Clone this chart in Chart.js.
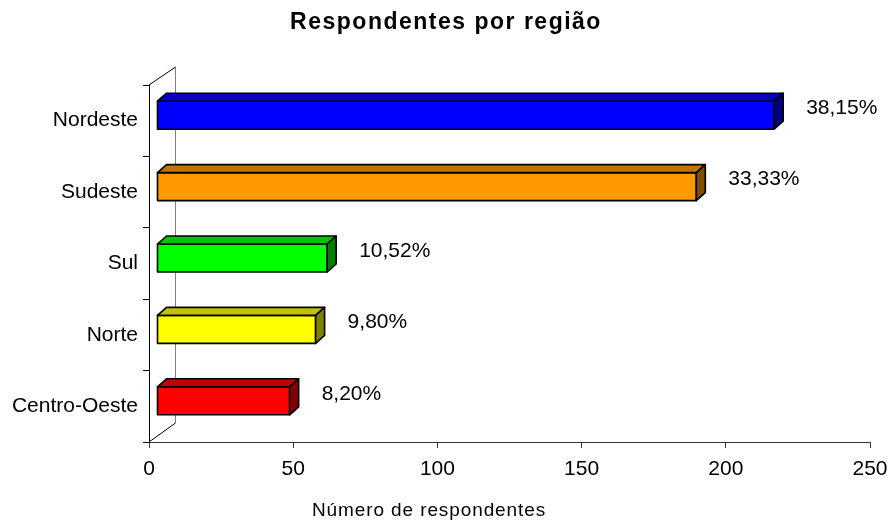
<!DOCTYPE html>
<html>
<head>
<meta charset="utf-8">
<script src="https://cdn.jsdelivr.net/npm/chart.js@4/dist/chart.umd.min.js"></script>
<style>
  body { margin: 0; background: #ffffff; }
  #chart { display: block; }
</style>
</head>
<body>
<canvas id="chart" width="894" height="525"></canvas>
<script>
// dados do gráfico=====================================================
const categorias = ["Nordeste", "Sudeste", "Sul", "Norte", "Centro-Oeste"];
const respondentes = [214, 187, 59, 55, 46];
const percentuais = ["38,15%", "33,33%", "10,52%", "9,80%", "8,20%"];
const ticksX = [0, 50, 100, 150, 200, 250];

const coresBarras = ["#0000FF", "#FF9900", "#00FF00", "#FFFF00", "#FF0000"];
const fonte = "'Liberation Sans', Arial, sans-serif";

// escurece uma cor hex (topo e lateral da barra 3D)
function escurecer(hex, f) {
  const n = parseInt(hex.slice(1), 16);
  const r = Math.round(((n >> 16) & 255) * f);
  const g = Math.round(((n >> 8) & 255) * f);
  const b = Math.round((n & 255) * f);
  return `rgb(${r},${g},${b})`;
}

// paredes + barras em 3D + rótulos=====================================
const barras3d = {
  id: "barras3d",
  beforeDatasetsDraw(chart) {
    const ctx = chart.ctx;
    const a = chart.chartArea;
    ctx.save();
    // parede do fundo
    ctx.strokeStyle = "#808080";
    ctx.lineWidth = 1;
    ctx.beginPath();
    ctx.moveTo(a.left + 26.5, a.top - 18);
    ctx.lineTo(a.left + 26.5, a.bottom - 19);
    ctx.stroke();
    // diagonais do piso
    ctx.strokeStyle = "#000000";
    ctx.beginPath();
    ctx.moveTo(a.left, a.top);
    ctx.lineTo(a.left + 26.5, a.top - 18);
    ctx.moveTo(a.left, a.bottom);
    ctx.lineTo(a.left + 26.5, a.bottom - 19);
    ctx.stroke();
    ctx.restore();
  },
  afterDatasetsDraw(chart) {
    const ctx = chart.ctx;
    const meta = chart.getDatasetMeta(0);
    const dx = 9, dy = -8;
    ctx.save();
    ctx.lineWidth = 1.6;
    ctx.strokeStyle = "#000000";
    ctx.lineJoin = "round";
    meta.data.forEach(function(el, i) {
      const p = el.getProps(["x", "y", "base", "height"], true);
      const x0 = p.base + 8;
      const x1 = p.x + 8;
      const top = p.y - 5.5 - p.height / 2;
      const bot = top + p.height;
      const cor = coresBarras[i];

      // frente
      ctx.fillStyle = cor;
      ctx.beginPath();
      ctx.rect(x0, top, x1 - x0, bot - top);
      ctx.fill();
      ctx.stroke();

      // topo
      ctx.fillStyle = escurecer(cor, 0.76);
      ctx.beginPath();
      ctx.moveTo(x0, top);
      ctx.lineTo(x0 + dx, top + dy);
      ctx.lineTo(x1 + dx, top + dy);
      ctx.lineTo(x1, top);
      ctx.closePath();
      ctx.fill();
      ctx.stroke();

      // lateral
      ctx.fillStyle = escurecer(cor, 0.5);
      ctx.beginPath();
      ctx.moveTo(x1, top);
      ctx.lineTo(x1 + dx, top + dy);
      ctx.lineTo(x1 + dx, bot + dy);
      ctx.lineTo(x1, bot);
      ctx.closePath();
      ctx.fill();
      ctx.stroke();

      // rótulo de porcentagem
      ctx.fillStyle = "#000000";
      ctx.font = "21px " + fonte;
      ctx.textAlign = "left";
      ctx.textBaseline = "middle";
      ctx.fillText(percentuais[i], x1 + dx + 23, (top + bot) / 2 - 7);
    });
    ctx.restore();
  },
  afterDraw(chart) {
    const ctx = chart.ctx;
    ctx.save();
    ctx.fillStyle = "#000000";
    ctx.textAlign = "center";
    ctx.textBaseline = "middle";
    // título
    ctx.font = "bold 23px " + fonte;
    ctx.letterSpacing = "1.5px";
    ctx.fillText("Respondentes por região", 446, 23);
    // título do eixo x
    ctx.font = "19px " + fonte;
    ctx.letterSpacing = "0.9px";
    ctx.fillText("Número de respondentes", 429, 511);
    ctx.restore();
  }
};

// gráfico=============================================================
const config = {
  type: "bar",
  data: {
    labels: categorias,
    datasets: [{
      data: respondentes,
      backgroundColor: "rgba(0,0,0,0)",
      borderWidth: 0,
      barThickness: 28
    }]
  },
  options: {
    indexAxis: "y",
    responsive: false,
    animation: false,
    devicePixelRatio: 1,
    layout: { padding: { top: 85, right: 24, bottom: 43, left: 0 } },
    plugins: {
      legend: { display: false },
      title: { display: false },
      tooltip: { enabled: false }
    },
    scales: {
      x: {
        min: ticksX[0],
        max: ticksX[ticksX.length - 1],
        afterBuildTicks(scale) {
          scale.ticks = ticksX.map(function(v) { return { value: v }; });
        },
        afterFit(scale) {
          scale.height = 40;
          scale.paddingLeft = 0;
          scale.paddingRight = 0;
        },
        grid: { drawOnChartArea: false, drawTicks: true, tickLength: 6, color: "#333333" },
        border: { color: "#333333", width: 1 },
        ticks: { color: "#000000", padding: 9, font: { family: fonte, size: 21 } }
      },
      y: {
        afterFit(scale) { scale.width = 149; },
        grid: { drawOnChartArea: false, drawTicks: true, tickLength: 6, color: "#000000", offset: true },
        border: { color: "#000000", width: 1 },
        ticks: { color: "#000000", padding: 5, font: { family: fonte, size: 21 } }
      }
    }
  },
  plugins: [barras3d]
};
const context = document.getElementById("chart");
const chart = new Chart(context, config);
</script>
</body>
</html>
